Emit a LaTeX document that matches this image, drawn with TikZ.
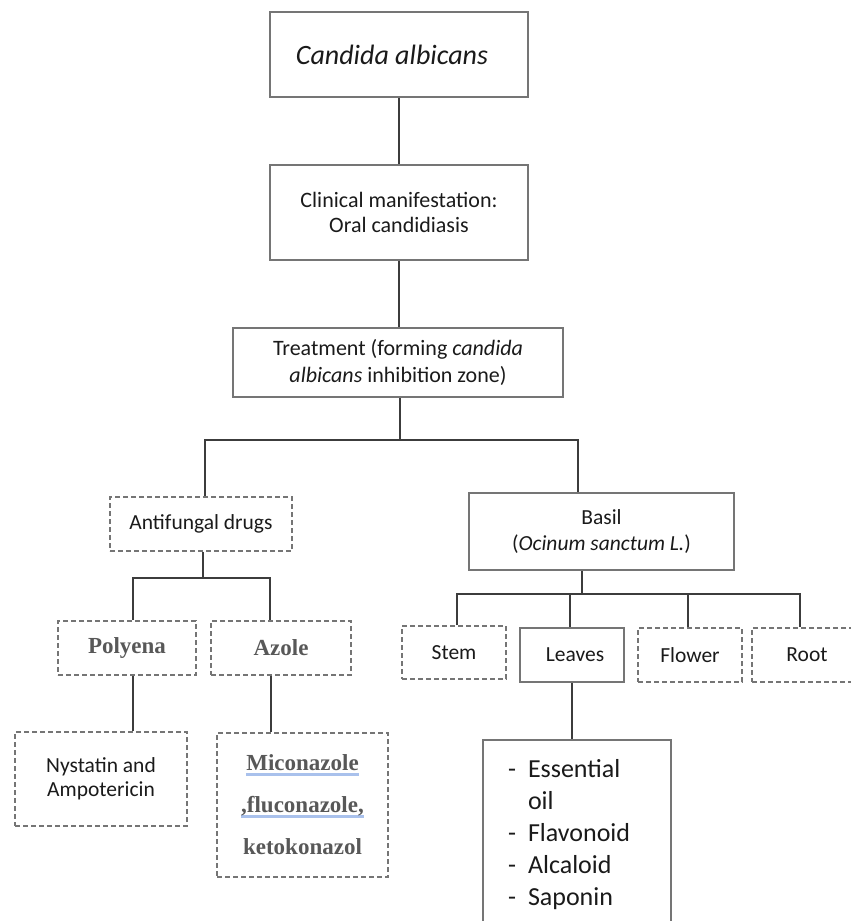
\documentclass[tikz,border=0pt]{standalone}
\usepackage{fontspec}
\setmainfont{Carlito}
\newfontfamily\serifgray{Liberation Serif}
\definecolor{linec}{HTML}{3C3C3C}
\definecolor{boxc}{HTML}{757575}
\definecolor{txt}{HTML}{1A1A1A}
\definecolor{sgray}{HTML}{585858}
\definecolor{ulblue}{HTML}{A9C1EC}
\newsavebox{\ulbox}
\newcommand\blueul[1]{\sbox{\ulbox}{#1}\rlap{\color{ulblue}\rule[-5pt]{\wd\ulbox}{2.5pt}}\usebox{\ulbox}}
\tikzset{
  solidbox/.style={draw=boxc, line width=1.9pt, rectangle, inner sep=0pt, align=center, text=txt, font=\fontsize{21.5}{26}\selectfont},
  dashbox/.style={solidbox, dash pattern=on 5pt off 3pt},
  conn/.style={draw=linec, line width=2.8pt},
  sertext/.style={font=\serifgray\bfseries\fontsize{23}{42}\selectfont, text=sgray}
}
\begin{document}
\begin{tikzpicture}[x=1pt,y=-1pt]
\useasboundingbox (0,0) rectangle (851,921);
\clip (0,0) rectangle (851,921);
% nodes
\node[solidbox, minimum width=258, minimum height=85, font=\fontsize{28}{32}\selectfont\itshape] (top) at (399,54.5) {\hspace*{-14pt}Candida albicans};
\node[solidbox, minimum width=258, minimum height=95, font=\fontsize{22}{25}\selectfont] (clin) at (399,212.5) {Clinical manifestation:\\Oral candidiasis};
\node[solidbox, minimum width=330, minimum height=69, font=\fontsize{22}{27}\selectfont] (treat) at (398,362.5) {Treatment (forming \textit{candida}\\\textit{albicans} inhibition zone)};
\node[dashbox, minimum width=182, minimum height=54] (anti) at (201,524) {Antifungal drugs};
\node[solidbox, minimum width=265, minimum height=77] (basil) at (601.5,531.5) {Basil\\(\textit{Ocinum sanctum L.})};
\node[dashbox, sertext, minimum width=138, minimum height=54] (poly) at (127,648) {Polyena};
\node[dashbox, sertext, minimum width=140, minimum height=54] (azole) at (281,648) {Azole};
\node[dashbox, minimum width=172, minimum height=94, font=\fontsize{21.5}{24}\selectfont] (nys) at (101,779) {Nystatin and\\Ampotericin};
\node[dashbox, sertext, minimum width=171, minimum height=144] (mico) at (302.5,805) {\blueul{Miconazole}\\\blueul{,fluconazole,}\\ketokonazol};
\node[dashbox, minimum width=104, minimum height=53] (stem) at (454,652.5) {Stem};
\node[solidbox, minimum width=104, minimum height=54] (leaves) at (572,655) {\hspace*{6pt}Leaves};
\node[dashbox, minimum width=104, minimum height=54] (flower) at (690,655) {Flower};
\node[dashbox, minimum width=104, minimum height=54] (root) at (804,655) {\hspace*{6pt}Root};
\node[solidbox, minimum width=188, minimum height=190, text width=138, align=left, font=\fontsize{26}{32}\selectfont] (list) at (577,835)
 {\begin{tabular}{@{}p{20pt}@{}l@{}}
 - & Essential\\
   & oil\\
 - & Flavonoid\\
 - & Alcaloid\\
 - & Saponin
 \end{tabular}};
% connectors
\coordinate (j1) at (400,440);
\coordinate (j2) at (203,578);
\coordinate (j3) at (582,594);
\draw[conn] (top.south) -- (clin.north);
\draw[conn] (clin.south) -- (clin.south |- treat.north);
\draw[conn] ([xshift=2pt]treat.south) -- (j1);
\draw[conn] ([xshift=4pt]anti.north) |- (j1) -| ([xshift=-23.5pt]basil.north);
\draw[conn] ([xshift=2pt]anti.south) -- (j2);
\draw[conn] ([xshift=6pt]poly.north) |- (j2) -| ([xshift=-11pt]azole.north);
\draw[conn] ([xshift=6pt]poly.south) -- ([xshift=32pt]nys.north);
\draw[conn] ([xshift=-10pt]azole.south) -- ([xshift=-31.5pt]mico.north);
\draw[conn] ([xshift=-19.5pt]basil.south) -- (j3);
\draw[conn] ([xshift=3pt]stem.north) |- (j3) -| ([xshift=-4pt]root.north);
\draw[conn] ([xshift=-2pt]leaves.north) -- ([xshift=-2pt]leaves.north |- j3);
\draw[conn] ([xshift=-2pt]flower.north) -- ([xshift=-2pt]flower.north |- j3);
\draw[conn] (leaves.south) -- (leaves.south |- list.north);
\end{tikzpicture}
\end{document}
